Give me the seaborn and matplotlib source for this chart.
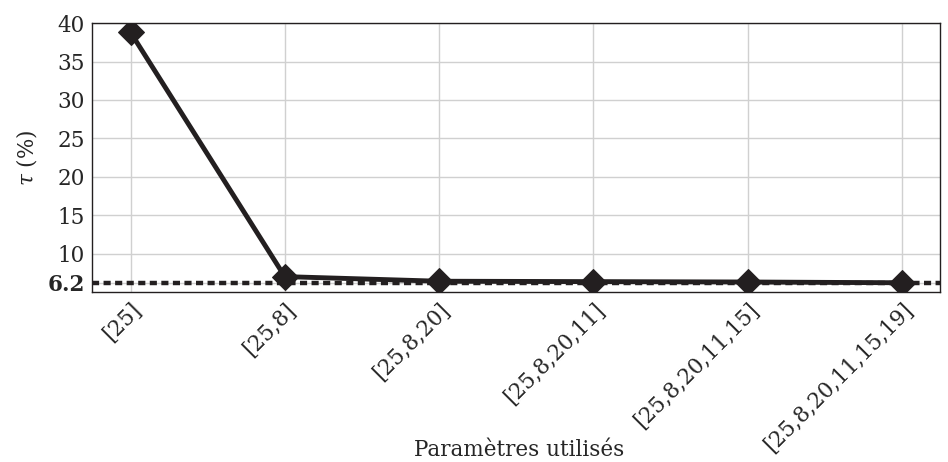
import matplotlib
matplotlib.use("Agg")
import matplotlib.pyplot as plt
import seaborn as sns
import pandas as pd

sns.set_style("whitegrid")
plt.rcParams['font.family'] = ['DejaVu Serif']
plt.rcParams['mathtext.fontset'] = 'dejavuserif'

# data
params = ['[25]', '[25,8]', '[25,8,20]', '[25,8,20,11]',
          '[25,8,20,11,15]', '[25,8,20,11,15,19]']
tau = [38.8, 7.0, 6.4, 6.35, 6.3, 6.2]
ref_level = 6.2

df = pd.DataFrame({'pos': range(len(params)), 'tau': tau})

fig = plt.figure(figsize=(9.48, 4.62), dpi=100)
ax = fig.add_axes([0.097, 0.368, 0.895, 0.582])

ax.axhline(ref_level, color='#231f20', lw=3.2, dashes=(1.6, 1.0), zorder=2)
sns.lineplot(data=df, x='pos', y='tau', ax=ax, color='#231f20', lw=3.5,
             marker='D', markersize=13, markeredgecolor='#231f20', zorder=3)

ax.set_xlim(-0.25, 5.25)
ax.set_ylim(5, 40)
ax.set_xticks(range(len(params)))
ax.set_xticklabels(params, rotation=45, ha='right', rotation_mode='anchor',
                   fontsize=15.5)
ax.set_yticks([6.2, 10, 15, 20, 25, 30, 35, 40])
ax.set_yticklabels(['6.2', '10', '15', '20', '25', '30', '35', '40'], fontsize=15.5)
ax.get_yticklabels()[0].set_fontweight('bold')
ax.tick_params(axis='both', length=0, pad=5)

ax.grid(True, color='#d0d0d0', lw=1)
for s in ax.spines.values():
    s.set_visible(True)
    s.set_color('#231f20')
    s.set_linewidth(1.0)

ax.set_xlabel('Paramètres utilisés', fontsize=15.5)
ax.xaxis.set_label_coords(0.503, -0.545)
ax.set_ylabel(r'$\tau$ (%)', fontsize=15.5, labelpad=6)

fig.savefig('out.png', dpi=100)
